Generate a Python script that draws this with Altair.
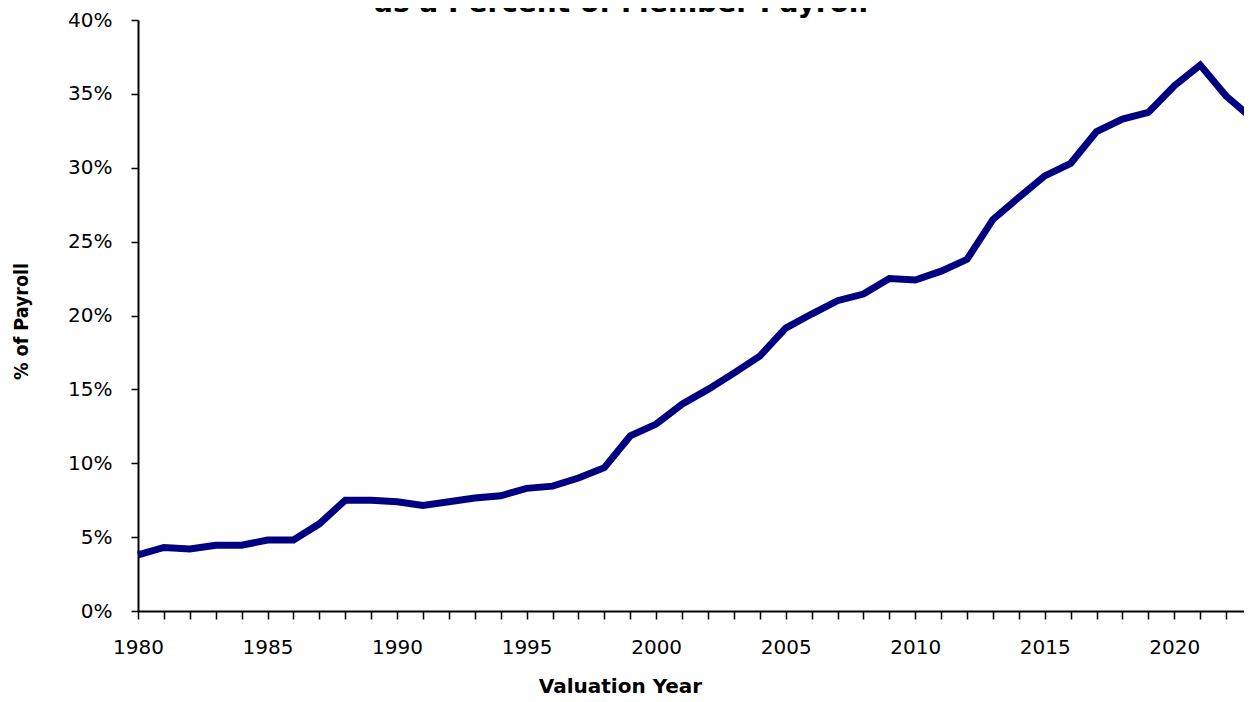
import altair as alt
import pandas as pd

years = list(range(1980, 2024))
rates = [3.8, 4.3, 4.2, 4.45, 4.45, 4.8, 4.8, 5.9, 7.5, 7.5,
         7.4, 7.15, 7.4, 7.65, 7.8, 8.3, 8.45, 9.0, 9.7, 11.85,
         12.65, 14.0, 15.0, 16.1, 17.25, 19.15, 20.1, 21.0, 21.45, 22.5,
         22.4, 23.0, 23.8, 26.5, 28.0, 29.45, 30.3, 32.45, 33.3, 33.75,
         35.55, 36.95, 34.85, 33.35]
title_line = "as a Percent of Member Payroll"
y_ticks = [0, 5, 10, 15, 20, 25, 30, 35, 40]
x_ticks = years

df = pd.DataFrame({"year": years, "rate": rates})
tdf = pd.DataFrame({"t": [title_line]})

x_scale = alt.Scale(domain=[1980, 2022.69], nice=False, zero=False)
y_scale = alt.Scale(domain=[0, 40], nice=False)

line = alt.Chart(df).mark_line(color="#000080", strokeWidth=7, clip=False).encode(
    x=alt.X("year:Q", scale=x_scale,
            axis=alt.Axis(values=x_ticks, format="d",
                          labelExpr="datum.value % 5 == 0 ? datum.label : ''",
                          labelOverlap=False, labelFlush=False, grid=False,
                          tickSize=8, tickWidth=1.5, tickColor="black",
                          domainWidth=2, domainColor="black",
                          labelFont="DejaVu Sans", labelFontSize=20, labelColor="black",
                          labelPadding=18,
                          title="Valuation Year", titleFont="DejaVu Sans",
                          titleFontSize=20, titleFontWeight="bold", titleColor="black",
                          titleX=482, titleY=81, titleBaseline="alphabetic")),
    y=alt.Y("rate:Q", scale=y_scale,
            axis=alt.Axis(values=y_ticks, labelExpr="datum.value + '%'",
                          grid=False, tickSize=7, tickWidth=1.5, tickColor="black",
                          domainWidth=2, domainColor="black",
                          labelFont="DejaVu Sans", labelFontSize=20, labelColor="black",
                          labelPadding=19,
                          title="% of Payroll", titleFont="DejaVu Sans Condensed",
                          titleFontSize=19.5, titleFontWeight="bold", titleColor="black",
                          titleX=-107, titleY=301, titleAngle=-90, titleBaseline="bottom")),
)

title = alt.Chart(tdf).mark_text(font="DejaVu Sans", fontSize=28, fontWeight="bold",
                                 color="black", align="center", baseline="alphabetic").encode(
    text="t:N", x=alt.value(483), y=alt.value(-8))

chart = alt.layer(line, title).properties(
    width=1106, height=591,
    padding={"left": 130, "top": 12, "right": 0, "bottom": 83},
    autosize=alt.AutoSizeParams(type="none"),
).configure_view(stroke=None).configure_axisX(labelOverlap=False, labelFlush=False)

chart.save("out.html", embed_options={"renderer": "svg", "actions": False})
